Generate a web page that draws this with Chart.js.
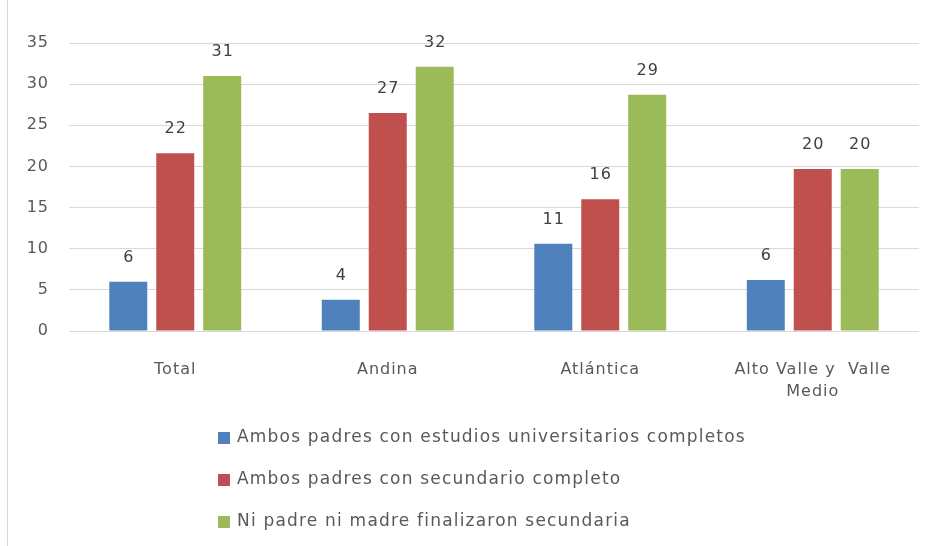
<!DOCTYPE html>
<html>
<head>
<meta charset="utf-8">
<script src="https://cdn.jsdelivr.net/npm/chart.js@4"></script>
<style>
  html, body { margin: 0; padding: 0; background: #fff; }
  #wrap { position: relative; width: 931px; height: 546px; }
  #frame { position: absolute; left: 7px; top: 0; width: 1px; height: 546px; background: #d9d9d9; }
</style>
</head>
<body>
<div id="wrap">
  <div id="frame"></div>
  <canvas id="chart" width="931" height="546"></canvas>
</div>
<script>
const categories = ['Total', 'Andina', 'Atlántica', ['Alto Valle y  Valle', 'Medio']];
const seriesNames = [
  'Ambos padres con estudios universitarios completos',
  'Ambos padres con secundario completo',
  'Ni padre ni madre finalizaron secundaria'
];
const universitarios = [6.0, 3.8, 10.6, 6.2];
const secundario = [21.6, 26.5, 16.0, 19.7];
const ninguno = [31.0, 32.1, 28.7, 19.7];
const yTicks = [0, 5, 10, 15, 20, 25, 30, 35];
const colors = ['#4f81bd', '#c0504d', '#9bbb59'];

const fontFamily = '"DejaVu Sans", sans-serif';

// a bit of letter spacing, closer to the original's text width
const spacing = {
  id: 'spacing',
  beforeDraw(chart) { chart.ctx.letterSpacing = '1px'; }
};

const valueLabels = {
  id: 'valueLabels',
  afterDatasetsDraw(chart) {
    const ctx = chart.ctx;
    ctx.save();
    ctx.font = '16px ' + fontFamily;
    ctx.fillStyle = '#404040';
    ctx.textAlign = 'center';
    ctx.textBaseline = 'bottom';
    chart.data.datasets.forEach((ds, i) => {
      chart.getDatasetMeta(i).data.forEach((bar, j) => {
        ctx.fillText(Math.round(ds.data[j]), bar.x + 0.5, bar.y - 16);
      });
    });
    ctx.restore();
  }
};

const sideLegend = {
  id: 'sideLegend',
  afterDraw(chart) {
    const ctx = chart.ctx;
    ctx.save();
    ctx.font = '17px ' + fontFamily;
    ctx.letterSpacing = '1.2px';
    ctx.textBaseline = 'middle';
    chart.data.datasets.forEach((ds, i) => {
      const y = 438 + i * 42;
      ctx.fillStyle = ds.backgroundColor;
      ctx.fillRect(218, y - 6, 12, 12);
      ctx.fillStyle = '#595959';
      ctx.fillText(ds.label, 237, y);
    });
    ctx.restore();
  }
};

new Chart(document.getElementById('chart'), {
  type: 'bar',
  data: {
    labels: categories,
    datasets: [
      { label: seriesNames[0], data: universitarios, backgroundColor: colors[0] },
      { label: seriesNames[1], data: secundario, backgroundColor: colors[1] },
      { label: seriesNames[2], data: ninguno, backgroundColor: colors[2] }
    ]
  },
  options: {
    responsive: false,
    animation: false,
    layout: { padding: { top: 43, left: 0, right: 12, bottom: 0 } },
    datasets: {
      bar: { categoryPercentage: 0.663, barPercentage: 0.809 }
    },
    plugins: {
      legend: { display: false },
      tooltip: { enabled: false }
    },
    scales: {
      x: {
        grid: { display: false },
        border: { display: false },
        ticks: {
          color: '#595959',
          font: { family: fontFamily, size: 16, lineHeight: 1.35 },
          padding: 20,
          maxRotation: 0
        },
        afterFit(axis) { axis.height = 215; }
      },
      y: {
        min: 0,
        max: 35,
        afterBuildTicks(axis) { axis.ticks = yTicks.map(v => ({ value: v })); },
        grid: { color: '#d9d9d9', lineWidth: 1, drawTicks: false },
        border: { display: false },
        ticks: {
          color: '#595959',
          font: { family: fontFamily, size: 16 },
          padding: 20
        },
        afterFit(axis) { axis.width = 69; }
      }
    }
  },
  plugins: [spacing, valueLabels, sideLegend]
});
</script>
</body>
</html>
